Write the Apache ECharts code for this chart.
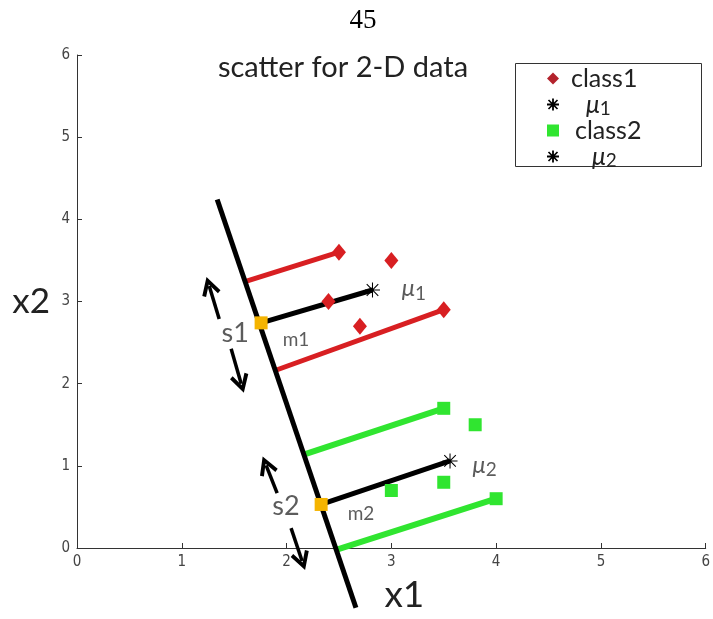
<!DOCTYPE html>
<html>
<head>
<meta charset="utf-8">
<script src="https://cdn.jsdelivr.net/npm/echarts@6/dist/echarts.min.js"></script>
<style>html,body{margin:0;padding:0;background:#fff}#c{width:713px;height:619px}</style>
</head>
<body>
<div id="c"></div>
<script>
// ---- data ----
const class1X = [2.5, 3.0, 2.4, 2.7, 3.5];
const class1Y = [3.6, 3.5, 3.0, 2.7, 2.9];
const class2X = [3.5, 3.8, 3.0, 3.5, 4.0];
const class2Y = [1.7, 1.5, 0.7, 0.8, 0.6];
const mu1 = [2.82, 3.14];
const mu2 = [3.56, 1.06];
const projLineX = [1.338, 2.662];
const projLineY = [4.242, -0.727];
const m1 = [1.757, 2.74];
const m2 = [2.33, 0.53];
const segIdx = [0, 4];                 // which points have projection segments
const class1ProjX = [1.595, 1.89];
const class1ProjY = [3.24, 2.16];
const class2ProjX = [2.17, 2.48];
const class2ProjY = [1.14, -0.02];
// arrows: tail x, tail y, tip x, tip y
const arrowTailX = [1.357, 1.471, 1.910, 2.043];
const arrowTailY = [2.788, 2.424, 0.667, 0.242];
const arrowTipX  = [1.262, 1.567, 1.805, 2.148];
const arrowTipY  = [3.188, 2.000, 1.006, -0.158];
// annotation texts
const annText = ['s1', 'm1', 'μ1', 's2', 'm2', 'μ2'];
const annX = [1.509, 2.090, 3.215, 1.995, 2.710, 3.891];
const annY = [2.618, 2.533, 3.156, 0.509, 0.412, 1.010];
const xTicks = [0, 1, 2, 3, 4, 5, 6];
const yTicks = [0, 1, 2, 3, 4, 5, 6];

// ---- styles ----
const RED = '#d81f22', GREEN = '#30e530', ORANGE = '#f5b400';
const tickFont = "'Liberation Sans Narrow','DejaVu Sans Condensed','Roboto',sans-serif";
const uiFont = "Lato, 'Open Sans', sans-serif";
const asterisk = 'path://M0,9.3 L20,9.3 L20,10.7 L0,10.7 Z M9.3,0 L10.7,0 L10.7,20 L9.3,20 Z M1.8,2.8 L2.8,1.8 L18.2,17.2 L17.2,18.2 Z M17.2,1.8 L18.2,2.8 L2.8,18.2 L1.8,17.2 Z';
const asteriskBold = 'path://M0,8.5 L20,8.5 L20,11.5 L0,11.5 Z M8.5,0 L11.5,0 L11.5,20 L8.5,20 Z M1.5,3.5 L3.5,1.5 L18.5,16.5 L16.5,18.5 Z M16.5,1.5 L18.5,3.5 L3.5,18.5 L1.5,16.5 Z';
const chevron = 'path://M10,0 L20,16 L16.5,18 L10,7.5 L3.5,18 L0,16 Z';

const muRich = {
  mu: {fontFamily: uiFont, fontSize: 24, fontStyle: 'italic', color: '#333', lineHeight: 24},
  sub: {fontFamily: uiFont, fontSize: 19, color: '#333', lineHeight: 14, padding: [10, 0, 0, 0], verticalAlign: 'middle'}
};

const series = [];
// projection segments (class1 red, class2 green)
segIdx.forEach((pi, k) => {
  series.push({type: 'line', data: [[class1X[pi], class1Y[pi]], [class1ProjX[k], class1ProjY[k]]],
    showSymbol: false, lineStyle: {color: RED, width: 5}, clip: false, silent: true, z: 2});
  series.push({type: 'line', data: [[class2X[pi], class2Y[pi]], [class2ProjX[k], class2ProjY[k]]],
    showSymbol: false, lineStyle: {color: GREEN, width: 6}, clip: false, silent: true, z: 2});
});
// mean projections
series.push({type: 'line', data: [mu1, m1], showSymbol: false, lineStyle: {color: '#000', width: 5}, z: 3, silent: true});
series.push({type: 'line', data: [mu2, m2], showSymbol: false, lineStyle: {color: '#000', width: 5}, z: 3, silent: true});
// projection direction line
series.push({type: 'line', data: projLineX.map((x, i) => [x, projLineY[i]]), showSymbol: false,
  lineStyle: {color: '#000', width: 5}, clip: false, z: 4, silent: true});
// class scatters
series.push({name: 'class1', type: 'scatter', data: class1X.map((x, i) => [x, class1Y[i]]),
  symbol: 'diamond', symbolSize: [14, 17], itemStyle: {color: RED, opacity: 1}, z: 6});
series.push({name: 'μ1', type: 'scatter', data: [mu1], symbol: asterisk, symbolSize: 15, itemStyle: {color: '#000', opacity: 1}, z: 6});
series.push({name: 'class2', type: 'scatter', data: class2X.map((x, i) => [x, class2Y[i]]),
  symbol: 'rect', symbolSize: 13, itemStyle: {color: GREEN, opacity: 1}, z: 6});
series.push({name: 'μ2', type: 'scatter', data: [mu2], symbol: asterisk, symbolSize: 15, itemStyle: {color: '#000', opacity: 1}, z: 6});
// projected means
series.push({type: 'scatter', data: [m1, m2], symbol: 'rect', symbolSize: 13, itemStyle: {color: ORANGE, opacity: 1}, z: 7, silent: true});
// arrows
series.push({type: 'lines', coordinateSystem: 'cartesian2d', clip: false, silent: true, z: 5,
  data: arrowTailX.map((x, i) => ({coords: [[x, arrowTailY[i]], [arrowTipX[i], arrowTipY[i]]]})),
  symbol: ['none', chevron], symbolSize: 19,
  lineStyle: {color: '#000', width: 3.5, opacity: 1, curveness: 0}});
// annotations
series.push({type: 'scatter', silent: true, z: 8, symbolSize: 0, clip: false,
  data: annText.map((t, i) => ({value: [annX[i], annY[i]], name: t})),
  label: {show: true, position: 'inside', color: '#333',
    formatter: p => {
      const t = p.name;
      if (t[0] === 'μ') return '{mu|μ}{sub|' + t.slice(1) + '}';
      if (t[0] === 's') return '{s|' + t + '}';
      return '{m|' + t + '}';
    },
    rich: Object.assign({
      s: {fontFamily: uiFont, fontSize: 27, color: '#333'},
      m: {fontFamily: uiFont, fontSize: 19, color: '#333'}
    }, muRich)
  }});

const LH = 20;
const option = {
  animation: false,
  backgroundColor: '#fff',
  title: [
    {text: '45', left: 358, top: 2, textAlign: 'center',
      textStyle: {fontFamily: "'Liberation Serif', 'DejaVu Serif', serif", fontSize: 27, fontWeight: 'normal', color: '#000'}},
    {text: 'scatter for 2-D data', left: 338, top: 48, textAlign: 'center',
      textStyle: {fontFamily: uiFont, fontSize: 29, fontWeight: 'normal', color: '#222'}}
  ],
  grid: {left: 77, right: 5, top: 55, bottom: 69, containLabel: false},
  xAxis: {type: 'value', min: xTicks[0], max: xTicks[xTicks.length - 1], interval: 1,
    name: 'x1', nameLocation: 'middle', nameGap: 29,
    nameTextStyle: {fontFamily: uiFont, fontSize: 37, color: '#222', padding: [0, 0, 0, 26]},
    axisLine: {show: true, onZero: false, lineStyle: {color: '#333', width: 1}},
    axisTick: {show: true, inside: true, length: 5, lineStyle: {color: '#333'}},
    splitLine: {show: false},
    axisLabel: {margin: 7, fontFamily: tickFont, fontSize: 15, color: '#444'}},
  yAxis: {type: 'value', min: yTicks[0], max: yTicks[yTicks.length - 1], interval: 1,
    name: 'x2', nameLocation: 'middle', nameGap: 27, nameRotate: 0,
    nameTextStyle: {fontFamily: uiFont, fontSize: 35, color: '#222'},
    axisLine: {show: true, onZero: false, lineStyle: {color: '#333', width: 1}},
    axisTick: {show: true, inside: true, length: 5, lineStyle: {color: '#333'}},
    splitLine: {show: false},
    axisLabel: {margin: 7, fontFamily: tickFont, fontSize: 15, color: '#444'}},
  graphic: [{type: 'rect', left: 515, top: 63, z: 1,
    shape: {width: 186, height: 103}, style: {fill: '#fff', stroke: '#333', lineWidth: 1}}],
  legend: {orient: 'vertical', left: 542, top: 61, z: 10, itemWidth: 12, itemHeight: 12, itemGap: 0,
    selectedMode: false,
    data: [{name: 'class1', icon: 'diamond', itemStyle: {color: '#b3222c'}},
           {name: 'μ1', icon: asteriskBold}, {name: 'class2', icon: 'rect'}, {name: 'μ2', icon: asteriskBold}],
    formatter: n => {
      if (n === 'class1') return '{a|class1}';
      if (n === 'class2') return '{b|class2}';
      if (n === 'μ1') return '{p1|μ}{sub|1}';
      return '{p2|μ}{sub|2}';
    },
    textStyle: {fontFamily: uiFont, fontSize: 24, color: '#222', lineHeight: LH,
      rich: {
        a: {fontFamily: uiFont, fontSize: 25, color: '#222', lineHeight: LH, padding: [0, 0, 0, 7]},
        b: {fontFamily: uiFont, fontSize: 25, color: '#222', lineHeight: LH, padding: [0, 0, 0, 11]},
        p1: {fontFamily: uiFont, fontSize: 25, fontStyle: 'italic', color: '#222', lineHeight: LH, padding: [0, 0, 0, 22]},
        p2: {fontFamily: uiFont, fontSize: 25, fontStyle: 'italic', color: '#222', lineHeight: LH, padding: [0, 0, 0, 28]},
        sub: {fontFamily: uiFont, fontSize: 19, color: '#222', lineHeight: 12, padding: [8, 0, 0, 0], verticalAlign: 'middle'}
      }}},
  series: series
};
const chart = echarts.init(document.getElementById('c'), null, {renderer: 'canvas'});
chart.setOption(option);
</script>
</body>
</html>
